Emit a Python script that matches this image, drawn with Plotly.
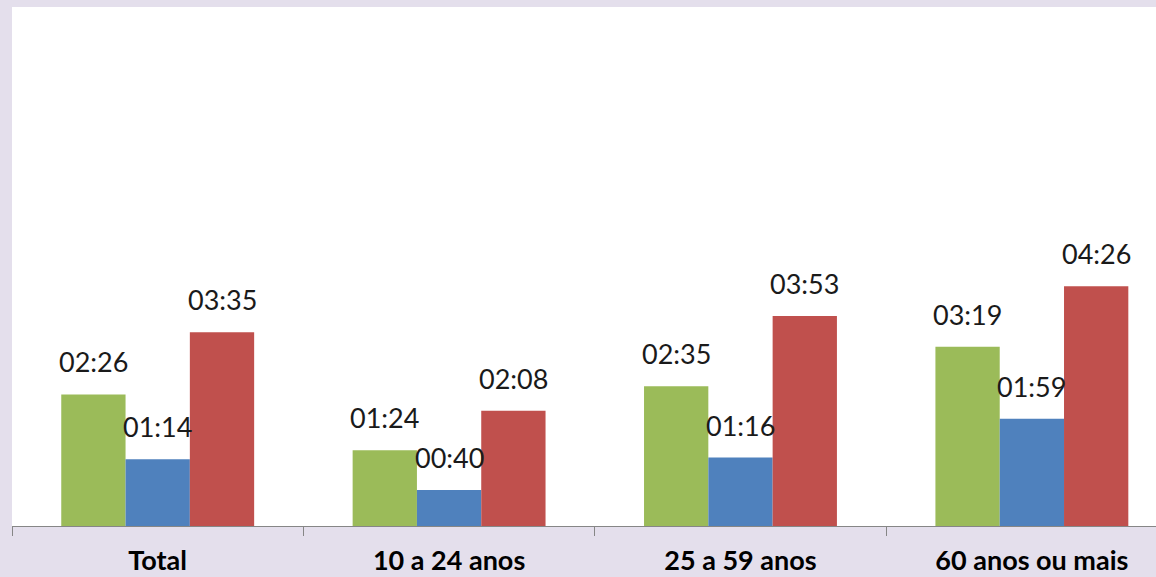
import plotly.graph_objects as go

categories = ["Total", "10 a 24 anos", "25 a 59 anos", "60 anos ou mais"]
series_names = ["Série 1", "Série 2", "Série 3"]
# values in minutes
green_vals = [146, 84, 155, 199]
blue_vals = [74, 40, 76, 119]
red_vals = [215, 128, 233, 266]
colors = ["#9BBB59", "#4F81BD", "#C0504D"]

def fmt(m):
    return f"{m // 60:02d}:{m % 60:02d}"

all_vals = [green_vals, blue_vals, red_vals]

fig = go.Figure()
for name, vals, col in zip(series_names, all_vals, colors):
    fig.add_trace(go.Bar(x=categories, y=vals, name=name, marker_color=col,
                         marker_line_width=0))

bargap = 0.338
bw = (1 - bargap) / 3
for si, vals in enumerate(all_vals):
    off = (si - 1) * bw
    for ci, v in enumerate(vals):
        fig.add_annotation(x=ci + off, y=v, xref="x", yref="y", text=fmt(v),
                           showarrow=False, yanchor="bottom", yshift=14,
                           font=dict(family="Lato", size=27, color="#1a1a1a"))

fig.update_layout(
    width=1156, height=577,
    margin=dict(l=12, r=0, t=7, b=51),
    paper_bgcolor="#E4DFEC",
    plot_bgcolor="#FFFFFF",
    barmode="group", bargap=bargap, bargroupgap=0,
    showlegend=False,
    xaxis=dict(type="category", range=[-0.5, 3.426], tickson="boundaries",
               ticks="outside", ticklen=9, tickcolor="#868686", tickwidth=1,
               showline=True, linecolor="#868686", linewidth=1, automargin=False,
               showgrid=False, zeroline=False, ticklabelstandoff=11,
               tickfont=dict(family="Lato", size=27, color="#000000", weight="bold")),
    yaxis=dict(range=[0, 576], visible=False, showgrid=False, zeroline=False,
               automargin=False),
)

fig.write_html("out.html",
               config={"displayModeBar": False},
               post_script="document.body.style.margin='0';"
                           "document.documentElement.style.overflow='hidden';"
                           "document.body.style.overflow='hidden';")
